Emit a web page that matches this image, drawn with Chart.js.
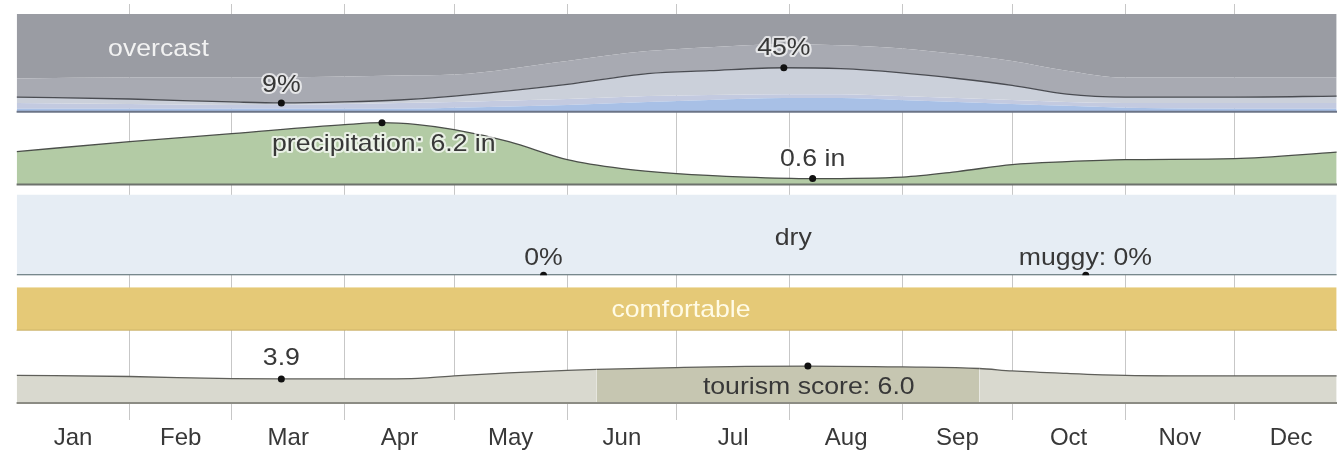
<!DOCTYPE html>
<html>
<head>
<meta charset="utf-8">
<script src="https://cdn.jsdelivr.net/npm/chart.js@4.4.1/dist/chart.umd.min.js"></script>
<style>
  html, body { margin: 0; padding: 0; background: #fff; }
  #wrap { position: relative; width: 1341px; height: 452px; }
</style>
</head>
<body>
<div id="wrap"><canvas id="summary"></canvas></div>
<script>
// x is day of year (0 = Jan 1)
const monthNames = ['Jan', 'Feb', 'Mar', 'Apr', 'May', 'Jun', 'Jul', 'Aug', 'Sep', 'Oct', 'Nov', 'Dec'];
const monthMidDays = [15.5, 45, 74.5, 105, 135.5, 166, 196.5, 227.5, 258, 288.5, 319, 349.5];
const monthStartDays = [31, 59, 90, 120, 151, 181, 212, 243, 273, 304, 334];

// cloud cover, cumulative % counted from the bottom of the band
const cloudDays =        [0, 31, 59, 72.6, 90, 105, 120, 151, 173, 190, 210.4, 226, 242, 258, 273, 288, 304, 334, 362];
const clearTop =         [3, 3, 3, 3, 3, 3, 4, 7, 10, 12, 14, 14, 12, 10, 8, 6, 4, 3, 3];
const mostlyClearTop =   [9, 8, 7, 7, 8, 9, 10, 13, 16, 17, 18, 18, 16, 14, 12, 10, 9, 9, 9];
const clearerPct =       [15, 13, 10, 9, 10, 12, 16, 28, 39, 42, 45, 44, 40, 34, 27, 18, 15, 15, 16];
const mostlyCloudyTop =  [34, 35, 35, 35, 36, 37, 38, 52, 62, 66, 69, 68, 65, 59, 52, 42, 35, 35, 35];
const overcastTop =      [100, 100, 100, 100, 100, 100, 100, 100, 100, 100, 100, 100, 100, 100, 100, 100, 100, 100, 100];
const cloudMarkDays = [72.6, 210.4];
const cloudMarkVals = [9, 45];

// monthly rainfall (inches, 31-day sliding)
const precipDays = [0, 31, 59, 90, 100.2, 110, 120, 135, 151, 166, 181, 200, 218.3, 243, 258, 273, 288, 304, 334, 362];
const precipIn =   [3.3, 4.3, 5.1, 6.0, 6.2, 6.0, 5.5, 4.3, 2.5, 1.6, 1.1, 0.75, 0.6, 0.75, 1.3, 2.0, 2.3, 2.5, 2.6, 3.25];
const precipMarkDays = [100.2, 218.3];
const precipMarkVals = [6.2, 0.6];

// humidity comfort
const humDays = [0, 362];
const dryPct = [100, 100];
const muggyPct = [0, 0];
const humMarkDays = [144.5, 293.2];
const humMarkVals = [0, 0];

// temperature comfort
const comfortDays = [0, 362];
const comfortablePct = [100, 100];

// tourism score
const tourDays =   [0, 31, 59, 72.6, 90, 110, 120, 135, 151, 159, 181, 200, 217, 243, 264, 273, 288, 304, 334, 362];
const tourScore =  [4.5, 4.3, 3.95, 3.9, 3.9, 4.0, 4.4, 4.9, 5.3, 5.45, 5.75, 5.95, 6.0, 5.85, 5.6, 5.2, 4.8, 4.5, 4.4, 4.4];
const bestStart = 159;
const bestEnd = 264;
const tourMarkDays = [72.6, 217];
const tourMarkVals = [3.9, 6.0];

const pts = (xs, ys) => xs.map((x, i) => ({x: x, y: ys[i]}));

const FONT = '"Liberation Sans", Arial, sans-serif';
Chart.defaults.font.family = FONT;
const gridColor = 'rgba(0,0,0,0.22)';
const textColor = '#383838';
const textStretch = 1.11;

function layer(data, axis, color, fill) {
  return {
    data: data, yAxisID: axis, backgroundColor: color, fill: fill,
    borderWidth: 0, pointRadius: 0, cubicInterpolationMode: 'monotone', order: 2
  };
}
function markers(xs, ys, axis) {
  return {
    data: pts(xs, ys), yAxisID: axis, showLine: false, pointRadius: 3.5,
    pointBackgroundColor: '#111', pointBorderWidth: 0, order: 0
  };
}

const datasets = [
  markers(cloudMarkDays, cloudMarkVals, 'yCloud'),
  markers(precipMarkDays, precipMarkVals, 'yPrecip'),
  markers(humMarkDays, humMarkVals, 'yHum'),
  markers(tourMarkDays, tourMarkVals, 'yTour'),

  // cloud layers, index 4..8
  layer(pts(cloudDays, clearTop), 'yCloud', '#a8c0e6', 'origin'),
  layer(pts(cloudDays, mostlyClearTop), 'yCloud', '#c3cae0', '-1'),
  Object.assign(layer(pts(cloudDays, clearerPct), 'yCloud', '#cbd0da', '-1'),
    {borderWidth: 1.3, borderColor: '#4a4c52', order: 1}),
  layer(pts(cloudDays, mostlyCloudyTop), 'yCloud', '#a8aab2', '-1'),
  layer(pts(cloudDays, overcastTop), 'yCloud', '#9a9ca3', '-1'),

  Object.assign(layer(pts(precipDays, precipIn), 'yPrecip', '#b3cba5', 'origin'),
    {borderWidth: 1.3, borderColor: '#4b4f4a', order: 1}),

  layer(pts(humDays, dryPct), 'yHum', '#e6edf4', 'origin'),
  Object.assign(layer(pts(humDays, muggyPct), 'yHum', 'transparent', false),
    {borderWidth: 2, borderColor: '#52666a', order: 1}),

  layer(pts(comfortDays, comfortablePct), 'yComfort', '#e5c977', 'origin'),

  Object.assign(layer(pts(tourDays, tourScore), 'yTour', '#d9d9cf', 'origin'), {
    borderWidth: 1.3, borderColor: '#5f5f5a', order: 1,
    segment: {
      backgroundColor: c => (c.p0.parsed.x >= bestStart && c.p1.parsed.x <= bestEnd) ? '#c6c6b1' : '#d9d9cf'
    }
  })
];

// band baselines
const bandLines = [
  {axis: 'yCloud', color: '#6b7487', width: 2},
  {axis: 'yPrecip', color: '#6d726c', width: 2},
  {axis: 'yComfort', color: '#c8ae63', width: 1},
  {axis: 'yTour', color: '#8c8c84', width: 2}
];

const bandLabels = [
  {text: 'overcast', axis: 'yCloud', day: 38.9, value: 64, color: '#f2f2f2'},
  {text: cloudMarkVals[0] + '%', axis: 'yCloud', day: cloudMarkDays[0], value: cloudMarkVals[0], dy: -18, halo: true},
  {text: cloudMarkVals[1] + '%', axis: 'yCloud', day: cloudMarkDays[1], value: cloudMarkVals[1], dy: -19, halo: true},
  {text: 'precipitation: ' + precipMarkVals[0] + ' in', axis: 'yPrecip', day: precipMarkDays[0], value: precipMarkVals[0], dx: -110, dy: 22, align: 'left', halo: true},
  {text: precipMarkVals[1] + ' in', axis: 'yPrecip', day: precipMarkDays[1], value: precipMarkVals[1], dy: -19, halo: true},
  {text: '0%', axis: 'yHum', day: humMarkDays[0], value: humMarkVals[0], dy: -17},
  {text: 'dry', axis: 'yHum', day: 213, value: 46},
  {text: 'muggy: 0%', axis: 'yHum', day: humMarkDays[1], value: humMarkVals[1], dx: -67, dy: -17, align: 'left'},
  {text: 'comfortable', axis: 'yComfort', day: 182.2, value: 46, color: '#fffbe6'},
  {text: tourMarkVals[0].toFixed(1), axis: 'yTour', day: tourMarkDays[0], value: tourMarkVals[0], dy: -21},
  {text: 'tourism score: ' + tourMarkVals[1].toFixed(1), axis: 'yTour', day: tourMarkDays[1], value: tourMarkVals[1], dx: -105, dy: 21, align: 'left'}
];

const bandPlugin = {
  id: 'bands',
  afterDatasetsDraw(chart) {
    const ctx = chart.ctx, area = chart.chartArea;
    bandLines.forEach(b => {
      const y = chart.scales[b.axis].getPixelForValue(0);
      ctx.save();
      ctx.strokeStyle = b.color;
      ctx.lineWidth = b.width;
      ctx.beginPath();
      ctx.moveTo(area.left, y);
      ctx.lineTo(area.right, y);
      ctx.stroke();
      ctx.restore();
    });
  },
  afterDraw(chart) {
    const ctx = chart.ctx, xs = chart.scales.x;
    bandLabels.forEach(l => {
      const px = xs.getPixelForValue(l.day) + (l.dx || 0);
      const py = chart.scales[l.axis].getPixelForValue(l.value) + (l.dy || 0);
      ctx.save();
      ctx.translate(px, py);
      ctx.scale(textStretch, 1);
      ctx.font = '24px ' + FONT;
      ctx.textAlign = l.align || 'center';
      ctx.textBaseline = 'middle';
      if (l.halo) {
        ctx.lineJoin = 'round';
        ctx.lineWidth = 4;
        ctx.strokeStyle = 'rgba(255,255,255,0.7)';
        ctx.strokeText(l.text, 0, 0);
      }
      ctx.fillStyle = l.color || textColor;
      ctx.fillText(l.text, 0, 0);
      ctx.restore();
    });
  }
};

// stacked, hidden y axes; stackWeight = band height in px
function band(weight, min, max) {
  return {display: false, position: 'right', stack: 'bands', stackWeight: weight, min: min, max: max};
}

new Chart(document.getElementById('summary'), {
  type: 'line',
  data: {datasets: datasets},
  plugins: [bandPlugin],
  options: {
    responsive: true,
    maintainAspectRatio: false,
    animation: false,
    layout: {padding: {left: 16.6, right: 0, top: 3, bottom: 0}},
    plugins: {legend: {display: false}, tooltip: {enabled: false}},
    scales: {
      x: {
        type: 'linear', position: 'bottom', min: 0, max: 362.1, z: 1,
        afterBuildTicks: s => {
          s.ticks = monthStartDays.concat(monthMidDays).sort((a, b) => a - b).map(v => ({value: v}));
        },
        afterFit: s => { s.height = 49; },
        grid: {
          color: c => monthStartDays.includes(c.tick && c.tick.value) ? gridColor : 'rgba(0,0,0,0)',
          lineWidth: 1, drawTicks: true, tickLength: 17
        },
        border: {display: false},
        ticks: {
          autoSkip: false, maxRotation: 0, padding: 4, color: textColor,
          font: {size: 24},
          callback: v => {
            const i = monthMidDays.indexOf(v);
            return i >= 0 ? monthNames[i] : '';
          }
        }
      },
      ySpaceTop: band(10, 0, 1),
      yCloud: band(98, 0, 100),
      yPrecip: band(73, 0, 7.3),
      yGap1: band(10, 0, 1),
      yHum: band(81, 0, 100),
      yGap2: band(12, 0, 1),
      yComfort: band(43, 0, 100),
      yGap3: band(10, 0, 1),
      yTour: band(63, 0, 10.2)
    }
  }
});
</script>
</body>
</html>
